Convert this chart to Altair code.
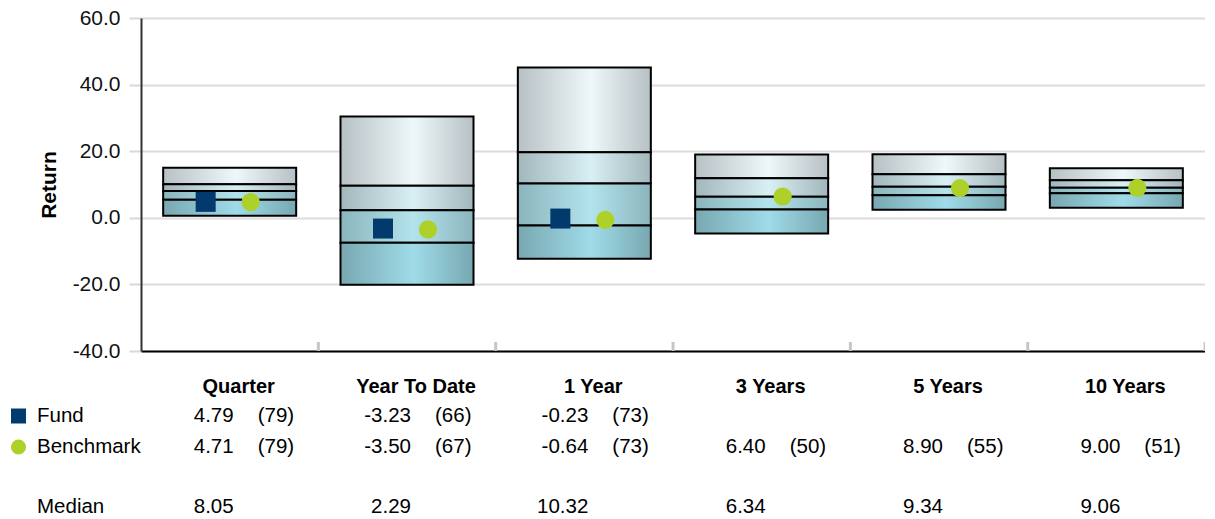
import altair as alt
import pandas as pd

categories = ["Quarter", "Year To Date", "1 Year", "3 Years", "5 Years", "10 Years"]
p05 = [15.0, 30.4, 45.1, 19.0, 19.1, 14.9]
p25 = [10.1, 9.6, 19.7, 11.9, 13.1, 11.3]
median = [8.05, 2.29, 10.32, 6.34, 9.34, 9.06]
p75 = [5.4, -7.5, -2.3, 2.5, 6.8, 7.4]
p95 = [0.6, -20.1, -12.3, -4.7, 2.4, 3.0]
fund = [4.79, -3.23, -0.23, None, None, None]
fund_rank = [79, 66, 73, None, None, None]
bench = [4.71, -3.50, -0.64, 6.40, 8.90, 9.00]
bench_rank = [79, 67, 73, 50, 55, 51]
row_labels = ["Fund", "Benchmark", "Median"]

FONT = "Liberation Sans"
W, H = 1064, 333
FS = 20.5


def fmt(v):
    return "" if v is None else f"{v:.2f}"


def fmtr(v):
    return "" if v is None else f"({v})"


df = pd.DataFrame({
    "cat": categories, "p05": p05, "p25": p25, "med": median, "p75": p75, "p95": p95,
    "fund": fund, "bench": bench,
    "fund_txt": [fmt(v) for v in fund], "fund_rk": [fmtr(v) for v in fund_rank],
    "bench_txt": [fmt(v) for v in bench], "bench_rk": [fmtr(v) for v in bench_rank],
    "med_txt": [fmt(v) for v in median],
})

xenc = alt.X("cat:N", sort=categories,
             scale=alt.Scale(paddingInner=0.25, paddingOuter=0.125),
             axis=alt.Axis(labels=False, ticks=False, title=None, domain=True,
                           domainColor="black", domainWidth=2, grid=False))
yscale = alt.Scale(domain=[-40, 60], nice=False, zero=False)
yenc_axis = alt.Y("p05:Q", scale=yscale,
                  axis=alt.Axis(values=[-40, -20, 0, 20, 40, 60],
                                labelExpr="(datum.value < 0 ? '-' : '') + format(abs(datum.value), '.1f')",
                                title="Return", titleFontSize=21, titleFontWeight="bold",
                                titleColor="black", titlePadding=13, labelFontSize=21,
                                labelColor="#111", labelPadding=9, tickSize=12,
                                tickColor="#d9d9d9", tickWidth=2, domainColor="#333",
                                domainWidth=2, gridColor="#dcdcdc", gridWidth=2))


def grad(edge, center):
    return {"gradient": "linear", "x1": 0, "x2": 1, "y1": 0, "y2": 0,
            "stops": [{"offset": 0, "color": edge}, {"offset": 0.55, "color": center},
                      {"offset": 1, "color": edge}]}


base = alt.Chart(df)
seg1 = base.mark_bar(color=grad("#b7c0c4", "#eef8fa"), stroke="black", strokeWidth=2).encode(
    x=xenc, y=yenc_axis, y2="p25:Q")
seg2 = base.mark_bar(color=grad("#a2b7bc", "#d8eff4"), stroke="black", strokeWidth=2).encode(
    x=xenc, y=alt.Y("p25:Q", scale=yscale), y2="med:Q")
seg3 = base.mark_bar(color=grad("#8bb5bd", "#b3e3ec"), stroke="black", strokeWidth=2).encode(
    x=xenc, y=alt.Y("med:Q", scale=yscale), y2="p75:Q")
seg4 = base.mark_bar(color=grad("#78a8b1", "#9fdbe8"), stroke="black", strokeWidth=2).encode(
    x=xenc, y=alt.Y("p75:Q", scale=yscale), y2="p95:Q")

fund_pts = base.transform_filter("datum.fund != null").mark_square(
    size=400, color="#023a6e", opacity=1, xOffset=-24).encode(
    x=xenc, y=alt.Y("fund:Q", scale=yscale))
bench_pts = base.mark_circle(size=330, color="#add128", opacity=1, xOffset=21).encode(
    x=xenc, y=alt.Y("bench:Q", scale=yscale))

ticks = base.mark_rule(color="#c3c7cb", strokeWidth=3, xOffset=22.2).encode(
    x=alt.X("cat:N", sort=categories, bandPosition=1), y=alt.value(H - 9), y2=alt.value(H))

ROW_HEAD, ROW_FUND, ROW_BENCH, ROW_MED = 369, 398, 429, 489


def txt(field, y, align, dx, bold=False):
    return base.mark_text(align=align, baseline="middle", dx=dx, fontSize=FS - 0.5 if bold else FS,
                          fontWeight="bold" if bold else "normal", color="black", font=FONT).encode(
        x=alt.X("cat:N", sort=categories), y=alt.value(y), text=f"{field}:N")


table = [
    txt("cat", ROW_HEAD, "center", 9, bold=True),
    txt("fund_txt", ROW_FUND, "right", 4), txt("fund_rk", ROW_FUND, "left", 28),
    txt("bench_txt", ROW_BENCH, "right", 4), txt("bench_rk", ROW_BENCH, "left", 28),
    txt("med_txt", ROW_MED, "right", 4),
]

lab_df = pd.DataFrame({"lab": row_labels, "yy": [ROW_FUND, ROW_BENCH, ROW_MED]})
labels = alt.Chart(lab_df).mark_text(align="left", baseline="middle", fontSize=FS,
                                     color="black", font=FONT).encode(
    x=alt.value(-104), y=alt.Y("yy:Q", scale=None), text="lab:N")
leg_sq = alt.Chart(lab_df).transform_filter("datum.lab == 'Fund'").mark_square(
    size=225, color="#023a6e", opacity=1).encode(x=alt.value(-122.5), y=alt.Y("yy:Q", scale=None))
leg_ci = alt.Chart(lab_df).transform_filter("datum.lab == 'Benchmark'").mark_circle(
    size=230, color="#add128", opacity=1).encode(x=alt.value(-122.5), y=alt.Y("yy:Q", scale=None))

chart = alt.layer(seg1, seg2, seg3, seg4, fund_pts, bench_pts, ticks, *table,
                  labels, leg_sq, leg_ci).resolve_scale(y="shared").properties(
    width=W, height=H,
    padding={"left": 133, "top": 10, "right": 0, "bottom": 170},
    autosize=alt.AutoSizeParams(type="none"),
).configure_view(stroke=None).configure(font=FONT)

chart.save("out.html", embed_options={"renderer": "svg", "actions": False})
